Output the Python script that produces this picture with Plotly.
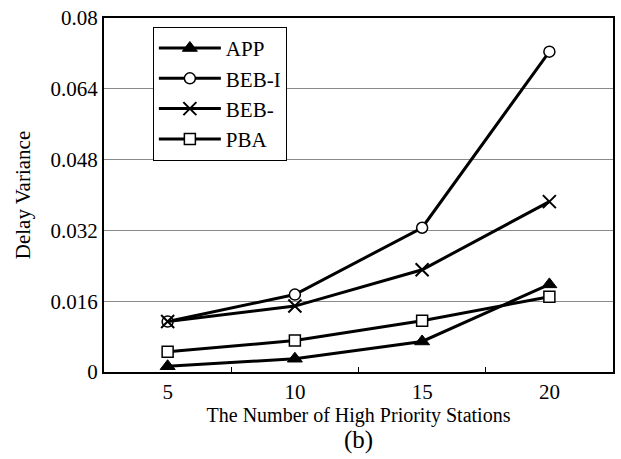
import plotly.graph_objects as go

stations = [5, 10, 15, 20]
app = [0.0013, 0.0030, 0.0069, 0.0198]
beb_i = [0.0114, 0.0175, 0.0326, 0.0724]
beb = [0.0114, 0.0149, 0.0231, 0.0385]
pba = [0.0046, 0.0071, 0.0116, 0.0170]
y_ticks = [0, 0.016, 0.032, 0.048, 0.064, 0.08]
y_labels = ["0", "0.016", "0.032", "0.048", "0.064", "0.08"]

FONT = "Liberation Serif, Times New Roman, serif"

series = [
    ("APP", app, dict(symbol="triangle-up", size=13, color="black",
                      line=dict(color="black", width=1))),
    ("BEB-I", beb_i, dict(symbol="circle", size=11, color="white",
                          line=dict(color="black", width=1.5))),
    ("BEB-", beb, dict(symbol="x-thin", size=13, color="black",
                       line=dict(color="black", width=2))),
    ("PBA", pba, dict(symbol="square", size=11, color="white",
                      line=dict(color="black", width=1.5))),
]

fig = go.Figure()
for name, vals, marker in series:
    fig.add_trace(go.Scatter(
        x=stations, y=vals, name=name, mode="lines+markers",
        line=dict(color="black", width=3), marker=marker,
    ))

fig.update_layout(
    width=621, height=459,
    margin=dict(l=104, r=6, t=13, b=87),
    paper_bgcolor="white", plot_bgcolor="white",
    font=dict(family=FONT, size=20, color="black"),
    showlegend=True,
    legend=dict(
        x=0.096, y=0.975, xanchor="left", yanchor="top",
        bgcolor="white", bordercolor="black", borderwidth=1,
        font=dict(family=FONT, size=21, color="black"),
        tracegroupgap=0, itemwidth=62,
    ),
    xaxis=dict(
        range=[2.5, 22.5], tickmode="array", tickvals=stations,
        ticks="", showgrid=False, zeroline=False,
        showline=True, mirror=True, linecolor="black", linewidth=2,
        tickfont=dict(family=FONT, size=21),
        minor=dict(tickmode="array", tickvals=[7.5, 12.5, 17.5],
                   ticks="inside", ticklen=5, tickcolor="black",
                   tickwidth=1, showgrid=False),
        title=dict(text="The Number of High Priority Stations",
                   font=dict(family=FONT, size=20), standoff=2),
    ),
    yaxis=dict(
        range=[0, 0.08], tickmode="array", tickvals=y_ticks,
        ticktext=y_labels, ticks="", showgrid=True,
        gridcolor="#8a8a8a", gridwidth=1, zeroline=False,
        showline=True, mirror=True, linecolor="black", linewidth=2,
        tickfont=dict(family=FONT, size=21),
        title=dict(text="Delay Variance",
                   font=dict(family=FONT, size=21), standoff=14),
    ),
    annotations=[dict(
        text="(b)", xref="paper", yref="paper", x=0.5, y=-0.148,
        xanchor="center", yanchor="top", showarrow=False,
        font=dict(family=FONT, size=25, color="black"),
    )],
)

fig.write_html("out.html")
